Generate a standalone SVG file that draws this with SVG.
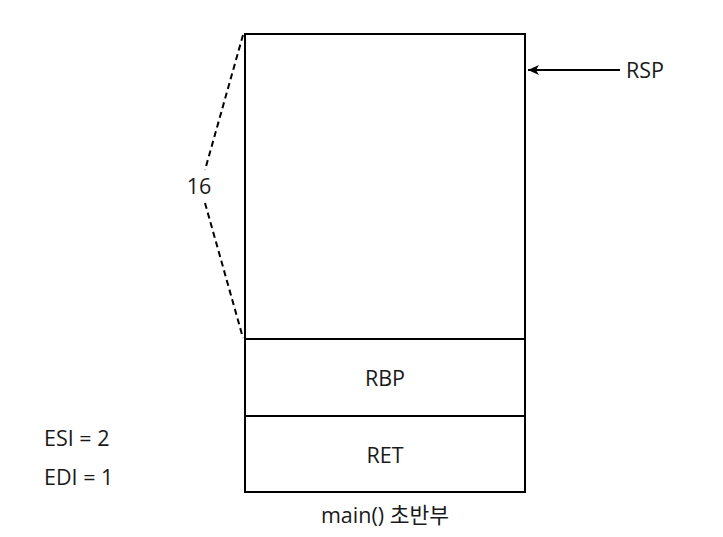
<svg xmlns="http://www.w3.org/2000/svg" width="723" height="537" viewBox="0 0 723 537">
<style>
.box{fill:#fff;stroke:#000;stroke-width:2}
.t{font-family:"Open Sans","Noto Sans","Noto Sans CJK KR",sans-serif;font-size:21.5px;fill:#1a1a1a}
.c{text-anchor:middle}
</style>
<defs>
<marker id="ah" markerWidth="12" markerHeight="12" refX="11" refY="6" orient="auto" markerUnits="userSpaceOnUse">
<path d="M0,1 L11,6 L0,11 L3,6 Z" fill="#000"/>
</marker>
</defs>
<rect width="723" height="537" fill="#fff"/>
<g id="frame"><rect class="box" x="245" y="34" width="280" height="305"/></g>
<g id="rbp"><rect class="box" x="245" y="339" width="280" height="77"/><text class="t c" x="385" y="386">RBP</text></g>
<g id="ret"><rect class="box" x="245" y="416" width="280" height="76"/><text class="t c" x="385" y="463">RET</text></g>
<g id="connectors">
<path d="M243,35 L205,170" fill="none" stroke="#000" stroke-width="2" stroke-dasharray="6,4"/>
<path d="M205,203 L243,338" fill="none" stroke="#000" stroke-width="2" stroke-dasharray="6,4"/>
<path d="M620,70 L528,70" fill="none" stroke="#000" stroke-width="2" marker-end="url(#ah)"/>
</g>
<g id="labels">
<text class="t c" x="199" y="194">16</text>
<text class="t" x="626" y="78">RSP</text>
<text class="t" x="44" y="446">ESI = 2</text>
<text class="t" x="44" y="485">EDI = 1</text>
<text class="t c" x="385" y="523">main() 초반부</text>
</g>
</svg>
